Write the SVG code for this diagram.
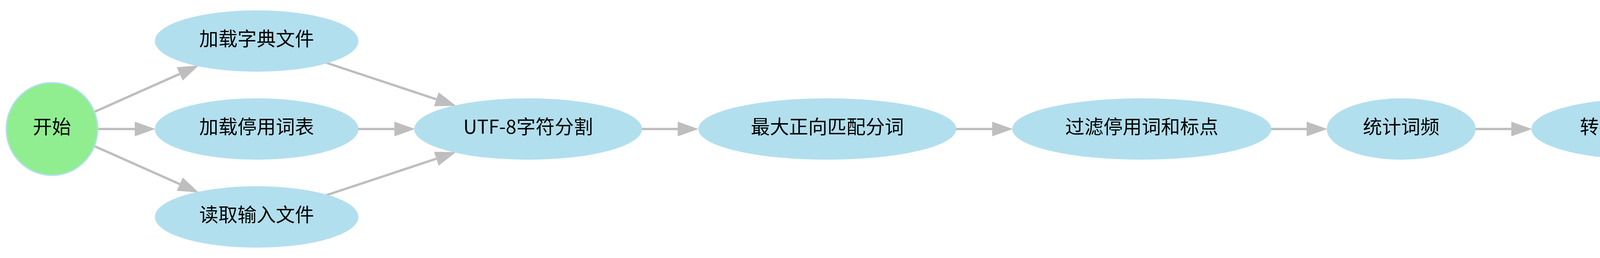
<svg xmlns="http://www.w3.org/2000/svg" width="5686" height="660" viewBox="0 0 5686 660">
<style>
.n{fill:#b2dfee;stroke:#b2dfee;stroke-width:3}
.g{fill:#90ee90;stroke:#b2dfee;stroke-width:3.5}
.r{fill:#f08080;stroke:#b2dfee;stroke-width:4}
.o{fill:none;stroke:#b2dfee;stroke-width:4}
.e{fill:none;stroke:#bebebe;stroke-width:6}
text{font-family:"Noto Sans CJK SC","Noto Sans",sans-serif;font-size:49px;fill:#000;text-anchor:middle}
</style>
<defs>
<marker id="ah" markerUnits="userSpaceOnUse" viewBox="0 -20 54 40" markerWidth="54" markerHeight="40" refX="0" refY="0" orient="auto" overflow="visible">
<path d="M0,-18.7 L53,0 L0,18.7 z" fill="#bebebe"/>
</marker>
</defs>
<rect width="5686" height="660" fill="#fff"/>
<g id="edges">
<path class="e" d="M242,286 L460.2,189" marker-end="url(#ah)"/>
<path class="e" d="M250,330 L345,330" marker-end="url(#ah)"/>
<path class="e" d="M242,374 L460.2,471" marker-end="url(#ah)"/>
<path class="e" d="M833.4,160 L1117.1,254" marker-end="url(#ah)"/>
<path class="e" d="M916,330 L1009.6,330" marker-end="url(#ah)"/>
<path class="e" d="M833.4,500 L1117.1,406" marker-end="url(#ah)"/>
<path class="e" d="M1642,330 L1735,330" marker-end="url(#ah)"/>
<path class="e" d="M2446.5,330 L2540,330" marker-end="url(#ah)"/>
<path class="e" d="M3252.6,330 L3345,330" marker-end="url(#ah)"/>
<path class="e" d="M3775.5,330 L3869,330" marker-end="url(#ah)"/>
<path class="e" d="M4510.7,330 L4603.5,330" marker-end="url(#ah)"/>
<path class="e" d="M5286,330 L5380.5,330" marker-end="url(#ah)"/>
</g>
<g id="start"><ellipse class="g" cx="133" cy="330" rx="117" ry="118.5"/><text x="133" y="342">开始</text></g>
<g id="loadDict"><ellipse class="n" cx="657" cy="105" rx="259" ry="77"/><text x="657" y="117">加载字典文件</text></g>
<g id="loadStop"><ellipse class="n" cx="657" cy="330" rx="259" ry="77"/><text x="657" y="342">加载停用词表</text></g>
<g id="readInput"><ellipse class="n" cx="657" cy="555" rx="259" ry="77"/><text x="657" y="567">读取输入文件</text></g>
<g id="utf8"><ellipse class="n" cx="1352" cy="330" rx="290" ry="77"/><text x="1352" y="342">UTF-8字符分割</text></g>
<g id="fmm"><ellipse class="n" cx="2118" cy="330" rx="328.6" ry="77"/><text x="2118" y="342">最大正向匹配分词</text></g>
<g id="filter"><ellipse class="n" cx="2923" cy="330" rx="330" ry="77"/><text x="2923" y="342">过滤停用词和标点</text></g>
<g id="count"><ellipse class="n" cx="3587" cy="330" rx="189" ry="77"/><text x="3587" y="342">统计词频</text></g>
<g id="sort"><ellipse class="n" cx="4216" cy="330" rx="294" ry="77"/><text x="4216" y="342">转换为排序数组</text></g>
<g id="output"><ellipse class="o" cx="4971" cy="330" rx="314" ry="314"/><ellipse class="r" cx="4971" cy="330" rx="297" ry="297"/><text x="4971" y="342">输出前10高频词</text></g>
<g id="end"><ellipse class="g" cx="5552" cy="330" rx="117" ry="118.5"/><text x="5552" y="342">结束</text></g>
</svg>
